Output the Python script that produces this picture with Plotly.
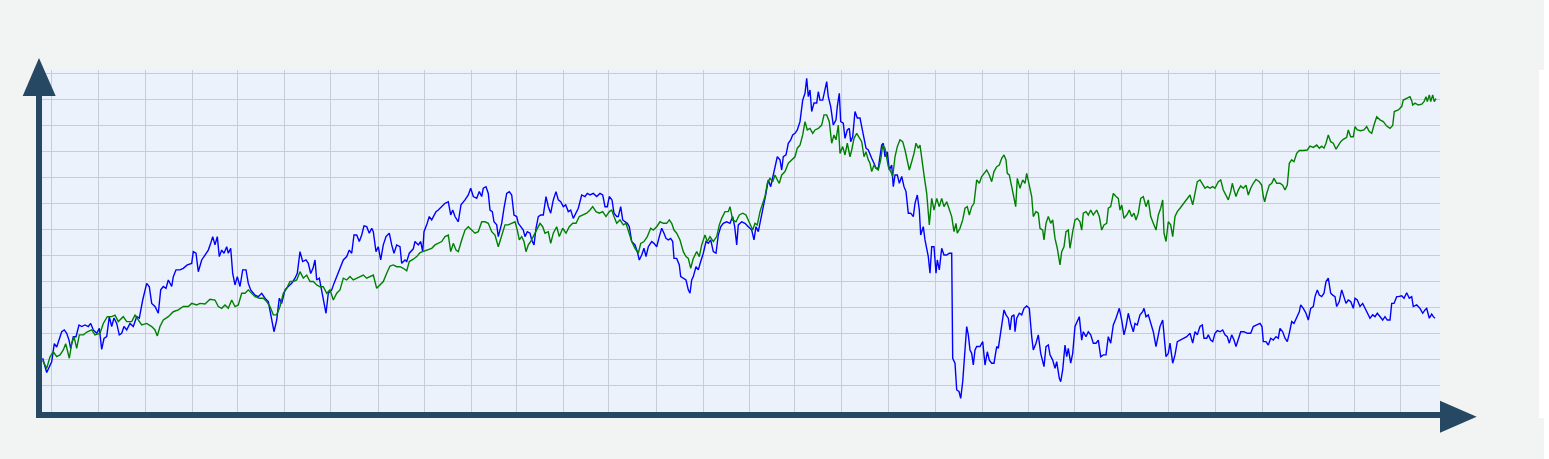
import plotly.graph_objects as go

# ---- data (t = time index, v = value) ----
blue_points = [
    (0.7,20.4),(4.7,14.9),(9.7,19.0),(12.3,26.0),(14.7,24.7),(17.3,27.4),(19.7,30.6),(22.3,31.3),(24.7,30.0),(27,27.4),
    (28.7,24.2),(31.3,28.7),(34,28.7),(37,33.2),(39.7,32.6),(43,33.2),(46.3,32.6),(48.7,33.8),(51.3,31.3),(54.7,30.0),
    (57.3,31.9),(59.7,23.8),(62,28.0),(64.7,28.7),(67.3,36.4),(69.7,32.6),(72,35.9),(74.7,33.8),(77.3,29.4),(79.7,30.0),
    (82,32.6),(84.7,31.3),(88,33.8),(91.3,32.6),(94.7,36.4),(97.3,35.8),(100.7,42.8),(104.7,49.2),(107.3,47.9),(109.7,41.5),
    (113,40.3),(116.3,37.7),(118.7,46.7),(121.3,48.0),(124,47.3),(126.3,50.5),(129.7,48.0),(131.3,51.8),(134,54.4),(138,54.4),
    (141.3,55.0),(145.3,56.3),(149.7,56.9),(151.3,61.4),(154,60.8),(156.3,53.7),(159.7,58.2),(163,60.1),(166.3,62.0),(168.7,64.6),
    (170.7,67.2),(173,64.0),(175.3,67.2),(177.3,59.5),(179.7,62.0),(182,60.8),(184.7,63.3),(186.3,60.8),(188.7,62.7),(190.7,53.0),
    (193,48.6),(195.3,51.8),(198,48.0),(200.7,54.4),(204,54.4),(206.3,49.2),(208.7,46.7),(213,44.7),(216.3,44.1),(219.7,45.4),
    (223,43.5),(226.3,42.2),(228.7,37.7),(232,30.6),(234.7,35.1),(237.3,43.5),(239.7,41.5),(243,46.7),(246.3,48.0),(249.7,49.2),
    (253,51.2),(255.3,53.1),(258,61.4),(260.7,57.6),(264,58.2),(266.3,56.9),(268.7,53.0),(271,55.0),(273,58.2),(274.7,50.5),
    (277.3,51.2),(279.7,46.7),(282,42.2),(284,37.7),(286.3,45.4),(289.7,46.7),(292,49.2),(294.7,51.8),(298,55.0),(301.3,58.2),
    (304.7,59.5),(307.3,62.0),(309.7,60.8),(312,67.8),(314.7,67.8),(317.3,65.3),(319.7,67.8),(322,71.3),(324.7,71.0),(327.3,68.5),
    (329.7,70.4),(331.3,69.1),(334,61.4),(336.3,63.3),(338.7,58.2),(341.3,64.0),(344,67.2),(347.3,68.5),(349.7,64.0),(352,60.8),
    (354.7,64.0),(358,63.3),(359.7,56.9),(363,58.2),(364.7,57.6),(367.3,60.8),(371.3,62.5),(373,65.3),(376.3,64.0),(378.7,65.3),
    (380.7,61.4),(382,69.1),(384.7,71.7),(387.3,74.9),(389.7,73.6),(391.3,74.9),(394,76.8),(396.3,77.4),(399.7,78.7),(403,80.0),
    (406.3,80.6),(408.7,75.5),(410.7,77.4),(413,74.9),(416.3,72.9),(419,79.4),(423,81.3),(426.3,83.2),(428.7,85.8),(431.3,82.6),
    (434.7,81.9),(437.3,84.5),(439.7,82.6),(441.3,85.8),(444,86.4),(446.3,83.8),(448,77.4),(450.3,76.8),(452,72.9),(454.7,71.7),
    (456.3,67.2),(458,70.4),(459.7,72.3),(462,78.1),(464.7,83.8),(467.3,84.5),(469.7,83.2),(472,75.5),(474.7,74.9),(476.3,72.3),
    (478.7,71.0),(481.3,69.7),(483,67.2),(485.3,69.1),(488,68.5),(489.7,65.9),(492,64.0),(494,70.4),(496.3,74.9),(498.7,75.5),
    (501.3,75.5),(504,82.6),(506.3,78.7),(508.7,76.2),(511.3,81.3),(514,84.5),(516.3,81.3),(518.7,80.6),(521.3,78.7),(523.7,79.4),
    (526.3,76.8),(528.7,77.4),(531.3,74.2),(534,76.2),(536.3,78.1),(539.7,83.2),(543,82.6),(545.3,83.8),(548,83.2),(551.3,83.8),
    (554.7,82.6),(558,83.8),(560.7,83.2),(563,78.7),(565.3,78.7),(567.3,82.6),(570,81.3),(572,76.2),(574.7,74.9),(576.3,74.9),
    (578.7,78.7),(580.7,73.6),(583,73.0),(585.3,72.3),(587.3,71.0),(589.7,65.3),(593,64.0),(595.3,61.4),(597.3,58.2),(599.7,60.1),
    (602,62.7),(604,59.5),(606.3,63.3),(609.7,65.3),(612,64.6),(614.7,63.3),(617.3,67.2),(619.7,70.4),(622,68.5),(624,66.5),
    (626.3,65.9),(628.7,66.5),(630.7,65.3),(632,58.8),(634.7,58.8),(637.3,56.3),(638.7,51.8),(641.3,51.2),(644,50.5),(646.3,46.7),
    (648,45.4),(649.7,50.5),(651.3,51.8),(654,55.6),(656.3,54.4),(658.7,57.6),(661.3,60.8),(664,65.3),(666.3,64.6),(668.7,65.9),
    (671.3,61.4),(674,60.8),(676.3,67.8),(678.7,71.0),(681.3,72.3),(684.7,72.9),(688,72.3),(690.7,74.9),(692.7,71.0),(694.7,64.0),
    (696.3,71.7),(699.7,72.9),(703,72.3),(706.3,71.0),(709.7,69.7),(712,65.9),(714,71.0),(716.3,69.1),(718.7,74.2),(721.3,78.7),
    (724,83.8),(726.3,89.0),(728.7,86.4),(731.3,90.9),(733,94.1),(735.3,97.9),(738,96.7),(739.7,92.8),(741.3,97.9),(744,98.6),
    (746.3,103.1),(748.7,104.4),(750.7,106.3),(753,106.9),(755.3,108.2),(758,111.4),(760.7,119.7),(763,122.3),(764.7,128.1),(766.3,121.0),
    (768,123.6),(769.7,115.3),(772,118.6),(774.7,118.6),(776.3,122.9),(778,119.7),(780.7,119.7),(783,123.6),(784.7,126.8),(786.3,121.0),
    (788.7,117.2),(791.3,110.1),(794,112.1),(795.3,117.2),(797.3,122.3),(798.7,111.4),(801.3,110.8),(803,105.0),(805.3,108.2),(807.3,108.8),
    (808.7,103.7),(810.7,105.6),(813,115.3),(815.3,112.8),(818,112.8),(819.7,109.5),(822,105.0),(824,101.2),(826.3,100.5),(828,99.2),
    (829.7,97.3),(832,95.4),(834,93.5),(836.3,93.5),(838,97.3),(839.7,102.4),(841.3,103.1),(843,97.9),(845.3,99.8),(847.3,92.8),
    (849.7,94.7),(851.3,86.4),(853,90.9),(855.3,90.9),(857.3,87.7),(859.7,90.3),(862,86.4),(864,84.5),(866.3,76.2),(868.7,76.2),
    (871.3,74.9),(873,80.0),(875.3,83.2),(877.3,77.4),(878.7,67.8),(881.3,71.0),(883,65.9),(884.7,62.7),(886.3,59.5),(888,53.1),
    (889.7,63.3),(892,63.3),(894,53.1),(895.3,58.2),(897.3,54.4),(899.7,62.7),(902,60.1),(904.7,60.1),(907.3,60.8),(909.7,60.8),
    (910.7,20.4),(913,18.5),(914.7,8.2),(917,7.6),(918.7,5.0),(920.7,11.4),(922,19.1),(924.7,32.6),(926.3,29.4),(928,23.6),
    (929.7,22.3),(931.3,17.8),(933,23.6),(934.7,24.9),(938,24.9),(940.7,26.8),(943,17.8),(945.3,22.9),(947.3,19.7),(949.7,18.5),
    (952,18.5),(954.7,24.9),(956.3,24.2),(958,28.7),(959.7,32.6),(962,39.0),(964,37.1),(966.3,35.8),(968,31.3),(969.7,36.5),
    (972,37.1),(973,30.6),(974.7,35.8),(977.3,37.7),(979.7,37.1),(982,39.6),(984.7,40.5),(987.3,39.6),(989.7,28.7),(991.3,23.6),
    (994,26.2),(996.3,29.4),(998.7,22.3),(1000.7,19.7),(1002,17.2),(1004,24.9),(1006.3,25.5),(1008,21.7),(1010.7,19.7),(1013,16.5),
    (1014.7,19.1),(1017.3,12.7),(1018.7,11.4),(1020.7,15.9),(1023,25.5),(1024.7,21.0),(1026.3,24.2),(1028.7,18.5),(1030.7,22.3),(1033,32.6),
    (1035.3,34.5),(1037.3,36.4),(1039.7,27.4),(1041.3,30.6),(1044,28.7),(1046.3,30.6),(1048.7,29.4),(1051.3,26.2),(1054,26.2),(1056.3,27.4),
    (1058.7,21.0),(1061.3,21.7),(1064,21.7),(1066.3,28.7),(1068.7,26.2),(1071.3,33.2),(1074,35.8),(1075.3,37.7),(1077.3,39.6),(1079.7,35.1),
    (1082,29.4),(1084,32.6),(1086.3,37.7),(1088.7,33.8),(1091.3,30.6),(1093,33.8),(1095.3,33.2),(1098,37.1),(1100.7,38.3),(1102,39.6),
    (1104,36.4),(1106.3,37.1),(1108.7,33.8),(1111.3,30.6),(1114,24.9),(1116.3,30.0),(1118,32.6),(1120.7,35.1),(1122,28.7),(1124,21.0),
    (1126.3,22.3),(1128,26.2),(1130.7,18.5),(1133,21.7),(1135.3,26.8),(1138,27.4),(1141.3,28.1),(1144.7,28.7),(1148,30.0),(1150.7,26.2),
    (1153,30.6),(1155.3,29.4),(1158,32.6),(1160.3,33.2),(1162,28.1),(1164.7,28.1),(1166.3,29.4),(1168.7,27.4),(1170.7,26.8),(1173,30.0),
    (1175.3,31.0),(1178,30.6),(1180.7,31.3),(1183,29.4),(1185.3,28.7),(1187.3,26.2),(1189.7,29.4),(1192,27.4),(1194,24.9),(1196.3,27.4),
    (1198.7,30.6),(1202,30.6),(1205.3,30.0),(1208.7,30.0),(1211.3,32.6),(1214.7,33.2),(1218,33.8),(1220,32.6),(1221.3,26.8),(1224,26.8),
    (1226.3,25.5),(1228.7,28.1),(1231.3,27.4),(1234,28.7),(1236.3,28.1),(1238,31.9),(1240.7,30.6),(1243,28.1),(1245.3,26.8),(1247.3,30.0),
    (1249.7,34.5),(1252,33.8),(1254.7,36.4),(1257.3,38.3),(1258.7,40.9),(1261.3,39.6),(1264,37.7),(1266.3,35.1),(1268.7,39.6),(1271.3,40.3),
    (1273,44.1),(1275.3,46.7),(1277.3,44.7),(1279.7,44.1),(1282,45.4),(1284,49.9),(1286.3,51.2),(1288.7,45.4),(1290.7,44.7),(1293,44.1),
    (1294.7,40.3),(1297.3,42.2),(1299.7,46.7),(1302,43.5),(1304,41.5),(1306.3,42.8),(1308.7,42.2),(1311.3,39.6),(1313,43.5),(1315.3,42.8),
    (1318,40.3),(1320.7,41.5),(1323,39.6),(1325.3,37.7),(1328,35.8),(1330.7,37.1),(1333,36.4),(1335.3,37.7),(1338,36.4),(1340.7,35.1),
    (1343,36.4),(1345.3,35.1),(1348,35.1),(1349.7,41.5),(1352,41.5),(1354.7,44.1),(1356.3,44.1),(1359.7,44.4),(1362,43.5),(1364.7,45.6),
    (1367.3,43.5),(1369.7,44.1),(1371.3,40.3),(1374.7,40.9),(1378,39.6),(1380.7,37.7),(1383,39.0),(1384.7,39.6),(1387.3,35.8),(1389.7,37.4),
    (1391.3,36.4),(1393,35.8),
]

green_points = [
    (0.7,19.5),(4.7,16.5),(8,21.0),(11.3,22.9),(14.7,21.0),(18,21.7),(21.3,23.6),(23.7,26.0),(27.3,20.4),(29.7,26.0),
    (32,28.7),(34.7,24.2),(37.3,29.4),(41.3,29.4),(45.3,30.6),(49.7,31.3),(53,29.4),(58,30.0),(61.3,33.8),(65.3,36.4),
    (69.7,36.4),(73,37.0),(76.3,34.5),(81.3,36.4),(84.7,34.5),(89.7,34.5),(93,37.0),(96.3,35.1),(99.7,33.2),(104.7,33.8),
    (109.7,32.6),(113,31.3),(115.3,29.0),(118,32.6),(121.3,35.1),(126.3,36.4),(131.3,38.3),(136.3,39.0),(141.3,40.3),(146.3,40.3),
    (149.7,41.5),(154.7,40.9),(158,41.5),(163,41.3),(168,43.1),(173,42.8),(176.3,40.3),(179.7,39.6),(183,40.9),(186.3,39.6),
    (189.7,42.8),(193,40.3),(196.3,40.9),(199.7,45.4),(203,45.4),(206.3,46.7),(209.7,45.4),(213,44.1),(217.3,43.5),(221.3,43.5),
    (224.7,42.2),(228,40.3),(231.3,37.1),(234.7,37.1),(238,40.3),(241.3,45.4),(244.7,47.3),(248,49.9),(251.3,49.9),(254.7,50.5),
    (258,53.7),(261.3,51.2),(264.7,52.4),(268,49.9),(271.3,49.9),(274.7,48.6),(278,47.9),(281.3,47.9),(284.7,45.4),(288,46.7),
    (291.3,42.8),(294.7,45.4),(298,46.7),(301.3,51.2),(304.7,50.5),(308,51.8),(311.3,50.5),(314.7,51.2),(318,51.8),(321.3,52.4),
    (324.7,51.2),(328,51.8),(331.3,52.4),(334.7,47.3),(338,48.6),(341.3,49.9),(344.7,53.1),(348,55.9),(351.3,56.3),(354.7,55.6),
    (358,55.6),(361.3,55.0),(364.7,54.0),(367.3,57.6),(371.3,58.5),(374.7,59.5),(378,61.0),(381.3,61.4),(386.3,62.0),(389.7,62.7),
    (393,64.0),(396.3,64.6),(399.7,65.3),(403,67.2),(406.3,67.8),(408.7,61.4),(411.3,64.6),(414,62.0),(416.3,61.4),(419.7,65.9),
    (423,69.7),(426.3,71.0),(429.7,69.7),(433,68.5),(436.3,69.1),(439.7,72.9),(443,72.9),(446.3,72.3),(449.7,69.1),(453,67.8),
    (456.3,63.3),(459.7,67.8),(463,71.7),(466.3,71.7),(469.7,72.3),(473,72.9),(475.3,69.7),(477.3,65.9),(479.7,67.2),(482,65.3),
    (484,61.4),(486.3,64.0),(488.7,65.3),(491.3,67.2),(494.7,69.7),(498,72.3),(500.7,71.0),(503,68.5),(506.3,69.1),(508.7,64.6),
    (511.3,68.5),(514.7,71.0),(517.3,67.2),(520.7,70.4),(524,68.5),(527.3,71.0),(530.7,72.3),(534,72.3),(537.3,74.9),(540.7,75.5),
    (544.7,76.2),(548,77.4),(550.7,78.7),(554,76.8),(557.3,76.2),(560.7,76.8),(564,74.9),(567.3,76.8),(569.7,77.4),(572,74.9),
    (574.7,72.3),(578,73.6),(581.3,71.7),(584,72.3),(586.3,69.7),(589.7,65.3),(593,62.7),(596.3,60.8),(598.7,64.6),(602,65.3),
    (605.3,67.2),(608.7,70.4),(611.3,69.7),(614.7,71.0),(618,72.9),(621.3,72.3),(624.7,72.3),(627.3,73.6),(629.7,72.3),(632,69.7),
    (634.7,68.5),(638,65.9),(641.3,61.4),(644,59.5),(646.3,58.8),(648.7,55.0),(651.3,58.8),(654.7,61.4),(657.3,59.5),(659.7,64.0),
    (663,67.8),(665.3,65.3),(668,67.2),(671.3,65.3),(674.7,67.2),(677.3,71.7),(679.7,74.2),(683,76.8),(686.3,76.8),(688,78.7),
    (690.7,73.6),(694,72.9),(697.3,75.5),(700.7,76.2),(704,75.5),(707.3,72.9),(710.7,69.7),(713,72.3),(715.3,71.7),(718,76.8),
    (720.7,80.0),(723,82.6),(725.3,87.7),(728,89.6),(730.7,88.3),(733,90.9),(735.3,89.0),(737.3,87.7),(739.7,90.9),(743,92.2),
    (746.3,95.4),(749.7,96.7),(753,97.9),(755.3,101.2),(758,102.4),(760.7,106.3),(763,111.4),(765.3,108.2),(768,108.8),(770.7,106.9),
    (773,108.2),(776.3,108.8),(779.7,110.1),(782,114.0),(784.7,114.0),(787.3,111.4),(789.7,103.1),(792,106.3),(794,104.4),(796.3,110.1),
    (798,99.2),(800.7,101.8),(803,98.6),(805.3,103.1),(808,97.9),(809.7,100.5),(812,105.0),(814.7,106.9),(817.3,105.0),(819.7,103.7),
    (822,97.9),(824,99.8),(826.3,96.7),(828,95.4),(829.7,92.2),(832,94.7),(834,93.5),(836.3,92.8),(838.7,96.7),(840.7,102.4),
    (843,101.2),(844.7,96.7),(846.3,94.1),(848.7,92.2),(850.7,90.3),(853,97.9),(855.3,101.8),(858,104.4),(860.7,103.7),(863,100.5),
    (865.3,96.7),(867.3,92.8),(869.7,96.0),(872,99.2),(874,103.1),(876.3,101.2),(878,102.4),(879.7,96.7),(882,90.9),(884.7,83.8),
    (887.3,71.7),(889.7,81.9),(892,77.4),(894.7,81.9),(897.3,78.7),(899.7,81.9),(902,78.7),(904.7,80.6),(907.3,77.4),(909.7,74.9),
    (912,69.1),(914,72.3),(915.3,68.5),(918,70.4),(920.7,73.6),(923,78.1),(925.3,78.7),(927.3,75.5),(929.7,78.7),(932,80.0),
    (934.7,89.0),(937.3,87.7),(939.7,90.3),(942,91.5),(944.7,92.8),(947.3,90.9),(949.7,88.3),(952,92.2),(954.7,94.1),(957.3,94.7),
    (959.7,97.3),(962,98.6),(964,96.7),(965.3,91.5),(967.3,90.9),(969.7,86.4),(971.3,83.8),(973.7,78.7),(975.3,89.6),(978,85.8),
    (980.7,89.0),(983,87.7),(984.7,91.5),(987.3,86.4),(989.7,82.6),(991.3,74.9),(994,76.8),(996.3,76.2),(998,70.4),(1000.7,69.7),
    (1002,65.9),(1004,72.3),(1006.3,74.9),(1008.7,72.3),(1010.7,73.6),(1013,66.5),(1015.3,62.7),(1018,56.3),(1019.7,61.4),(1022,63.3),
    (1024,69.1),(1026.3,69.7),(1028,62.7),(1030.7,69.1),(1033,73.6),(1035.3,74.2),(1038,72.9),(1039.7,69.7),(1041.3,76.2),(1044,76.8),
    (1046.3,75.5),(1048.7,77.4),(1051.3,75.5),(1054.7,77.4),(1057.3,74.9),(1059.7,69.7),(1062,71.7),(1064.7,72.3),(1066.3,78.1),(1068.7,78.7),
    (1071.3,83.8),(1074,82.6),(1076.3,81.9),(1078,77.4),(1079.7,79.4),(1082,74.2),(1084.7,75.5),(1087.3,77.4),(1089.7,74.9),(1092,76.2),
    (1094,73.6),(1096.3,76.2),(1098.7,81.9),(1101.3,82.6),(1104,78.7),(1106.3,81.3),(1108.7,74.9),(1111.3,72.3),(1114,69.7),(1116.3,75.5),
    (1118.7,78.1),(1120.7,81.3),(1122,68.5),(1124,65.3),(1126.3,72.9),(1128.7,71.7),(1130.7,67.2),(1133,74.9),(1135.3,76.8),(1138,78.1),
    (1140.7,79.4),(1143,80.6),(1145.3,81.9),(1148,83.2),(1150.7,79.4),(1153,83.8),(1155.3,88.3),(1158,89.0),(1160.7,87.0),(1163,85.8),
    (1165.3,86.4),(1168,85.8),(1170.7,86.4),(1173,85.8),(1176.3,88.3),(1178.7,89.0),(1181.3,85.1),(1184,83.2),(1186.3,81.3),(1188.7,84.5),
    (1190.3,87.7),(1192,85.1),(1194,82.6),(1196.3,85.1),(1198.7,86.7),(1201.3,85.8),(1204,87.0),(1206.3,83.2),(1208.7,85.8),(1211.3,87.7),
    (1214,89.2),(1217.3,88.3),(1219.7,87.0),(1221.3,82.6),(1222.7,80.6),(1224.7,83.8),(1227.3,87.0),(1229.7,87.7),(1232,89.6),(1234.7,87.7),
    (1238,87.7),(1240.7,87.0),(1243,85.1),(1245.3,87.0),(1247.3,95.4),(1249.7,96.7),(1252,96.0),(1254.7,99.2),(1257.3,100.3),(1261.3,100.3),
    (1265.3,100.5),(1268,102.0),(1271.3,101.5),(1274.7,102.4),(1277.3,101.2),(1279.7,102.0),(1282,101.2),(1284,103.1),(1286.3,106.3),(1288.7,103.7),
    (1291.3,103.1),(1294,100.8),(1296.3,102.4),(1298.7,103.7),(1301.3,104.6),(1304.7,105.4),(1306.3,108.2),(1308.7,105.6),(1311.3,105.6),(1313,109.5),
    (1315.3,108.2),(1318.7,107.9),(1322,108.2),(1324.7,109.5),(1327.3,107.6),(1329.7,106.9),(1332,110.1),(1334.7,113.3),(1338,112.1),(1341.3,111.4),
    (1344.7,109.7),(1348,108.8),(1350.7,109.9),(1352.3,115.3),(1356.3,115.9),(1359.7,117.2),(1361.3,119.7),(1364.7,120.3),(1368,121.0),(1369.7,119.5),
    (1370.7,117.8),(1373,118.5),(1376.3,117.8),(1379.7,118.1),(1382,119.1),(1384,121.0),(1385.3,119.1),(1387.3,121.7),(1388.7,119.1),(1390.7,121.7),
    (1392.3,119.1),(1394,120.3),
]

# month boundaries (vertical grid lines), in the same time units
month_ticks = [9.7, 56.7, 103.7, 150.7, 195.3, 242.3, 288.3, 336.7, 382.3, 429.3,
               474.3, 521.3, 566.3, 614.7, 661.7, 707.3, 752.7, 799.3, 846.3, 893.3,
               940.3, 986.3, 1032.0, 1079.3, 1126.3, 1173.0, 1220.3, 1266.3, 1312.3, 1358.7]

blue_t = [p[0] for p in blue_points]
blue_v = [p[1] for p in blue_points]
green_t = [p[0] for p in green_points]
green_v = [p[1] for p in green_points]

AXIS = "#264863"
GRID = "#c7ccd9"

fig = go.Figure()
fig.add_trace(go.Scatter(x=blue_t, y=blue_v, mode="lines",
                         line=dict(color="#0000ff", width=1.4), name="A"))
fig.add_trace(go.Scatter(x=green_t, y=green_v, mode="lines",
                         line=dict(color="#008000", width=1.4), name="B"))

fig.update_layout(
    width=1544, height=459,
    margin=dict(l=42, r=104, t=70, b=47, pad=0),
    paper_bgcolor="#f2f4f3",
    plot_bgcolor="#ebf2fc",
    showlegend=False,
    xaxis=dict(range=[0, 1398], tickmode="array", tickvals=month_ticks,
               showticklabels=False, ticks="", showgrid=True, gridcolor=GRID,
               gridwidth=1, zeroline=False, showline=True, linecolor=AXIS,
               linewidth=6),
    yaxis=dict(range=[-0.27, 131.27], tick0=0, dtick=10, showticklabels=False,
               ticks="", showgrid=True, gridcolor=GRID, gridwidth=1,
               zeroline=False, showline=True, linecolor=AXIS, linewidth=6),
    shapes=[
        dict(type="path", xref="paper", yref="paper",
             path="M -0.013805,0.92398 L 0.0098,0.92398 L -0.002146,1.03509 Z",
             fillcolor=AXIS, line=dict(width=0)),
        dict(type="path", xref="paper", yref="paper",
             path="M 1,0.03304 L 1,-0.06053 L 1.02625,-0.013743 Z",
             fillcolor=AXIS, line=dict(width=0)),
        dict(type="rect", xref="paper", yref="paper",
             x0=1.07082, x1=1.07439, y0=-0.01754, y1=1.0,
             fillcolor="#ffffff", line=dict(width=0)),
    ],
)

fig.write_html("out.html",
               config={"displayModeBar": False},
               post_script="document.body.style.margin='0';document.body.style.overflow='hidden';")
